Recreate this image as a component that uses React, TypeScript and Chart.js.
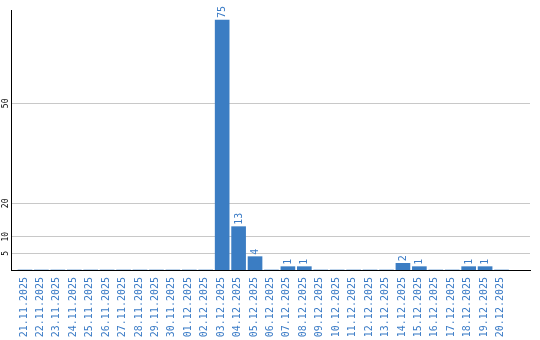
import React, { useEffect, useRef } from "react";
import { Chart, registerables } from "chart.js";

Chart.register(...registerables);

const labels = [
  "21.11.2025", "22.11.2025", "23.11.2025", "24.11.2025", "25.11.2025",
  "26.11.2025", "27.11.2025", "28.11.2025", "29.11.2025", "30.11.2025",
  "01.12.2025", "02.12.2025", "03.12.2025", "04.12.2025", "05.12.2025",
  "06.12.2025", "07.12.2025", "08.12.2025", "09.12.2025", "10.12.2025",
  "11.12.2025", "12.12.2025", "13.12.2025", "14.12.2025", "15.12.2025",
  "16.12.2025", "17.12.2025", "18.12.2025", "19.12.2025", "20.12.2025",
];
const values = [
  0, 0, 0, 0, 0, 0, 0, 0, 0, 0,
  0, 0, 75, 13, 4, 0, 1, 1, 0, 0,
  0, 0, 0, 2, 1, 0, 0, 1, 1, 0,
];
const yTicks = [5, 10, 20, 50];

const BLUE = "#3b7dc3";
const LABEL_BLUE = "#3a7bc6";
const MONO = "'DejaVu Sans Mono', monospace";

const labelPlugin = {
  id: "customLabels",
  afterDraw(chart: any) {
    const ctx = chart.ctx;
    const yScale = chart.scales.y;
    const xScale = chart.scales.x;
    // y tick labels, rotated
    ctx.save();
    ctx.fillStyle = "#000";
    ctx.font = `8px ${MONO}`;
    ctx.textAlign = "center";
    ctx.textBaseline = "middle";
    yTicks.forEach((v) => {
      const py = yScale.getPixelForValue(v);
      ctx.save();
      ctx.translate(6, py);
      ctx.rotate(-Math.PI / 2);
      ctx.fillText(String(v), 0, 0);
      ctx.restore();
    });
    ctx.restore();
    // x category labels, rotated
    ctx.save();
    ctx.fillStyle = LABEL_BLUE;
    ctx.font = `10px ${MONO}`;
    ctx.textAlign = "right";
    ctx.textBaseline = "middle";
    labels.forEach((lab, i) => {
      const px = xScale.getPixelForValue(i);
      ctx.save();
      ctx.translate(px - 1, xScale.top + 7);
      ctx.rotate(-Math.PI / 2);
      ctx.fillText(lab, 0, 0);
      ctx.restore();
    });
    ctx.restore();
    // value labels above bars
    const meta = chart.getDatasetMeta(0);
    ctx.save();
    ctx.fillStyle = LABEL_BLUE;
    ctx.font = `10px ${MONO}`;
    ctx.textAlign = "left";
    ctx.textBaseline = "middle";
    meta.data.forEach((bar: any, i: number) => {
      const v = values[i];
      if (!v) return;
      ctx.save();
      ctx.translate(bar.x + 0.5, bar.y - 2);
      ctx.rotate(-Math.PI / 2);
      ctx.fillText(String(v), 0, 0);
      ctx.restore();
    });
    ctx.restore();
  },
};

export default function App() {
  const ref = useRef<HTMLCanvasElement | null>(null);
  useEffect(() => {
    document.body.style.margin = "0";
    if (!ref.current) return;
    const chart = new Chart(ref.current, {
      type: "bar",
      data: {
        datasets: [
          {
            data: values.map((v, i) => ({ x: i, y: v })),
            backgroundColor: BLUE,
            borderWidth: 0,
            barThickness: 14,
          },
        ],
      },
      options: {
        animation: false,
        responsive: false,
        devicePixelRatio: 1,
        layout: { padding: { top: 10, right: 10, left: 0, bottom: 0 } },
        plugins: { legend: { display: false }, tooltip: { enabled: false } },
        scales: {
          x: {
            type: "linear",
            min: -0.3235,
            max: 30.206,
            grid: { display: false, drawTicks: false },
            border: { display: true, color: "#000", width: 1 },
            afterBuildTicks: (scale: any) => {
              scale.ticks = labels.map((_, i) => ({ value: i }));
            },
            afterFit: (scale: any) => {
              scale.height = 70;
            },
            ticks: { display: false },
          },
          y: {
            type: "linear",
            min: 0,
            max: 78,
            grid: { color: "#c8c8c8", drawTicks: false },
            border: { display: true, color: "#000", width: 1 },
            afterBuildTicks: (scale: any) => {
              scale.ticks = yTicks.map((v) => ({ value: v }));
            },
            afterFit: (scale: any) => {
              scale.width = 11;
            },
            ticks: { display: false },
          },
        },
      },
      plugins: [labelPlugin],
    });
    return () => chart.destroy();
  }, []);
  return (
    <div style={{ width: 540, height: 340 }}>
      <canvas ref={ref} width={540} height={340} />
    </div>
  );
}
